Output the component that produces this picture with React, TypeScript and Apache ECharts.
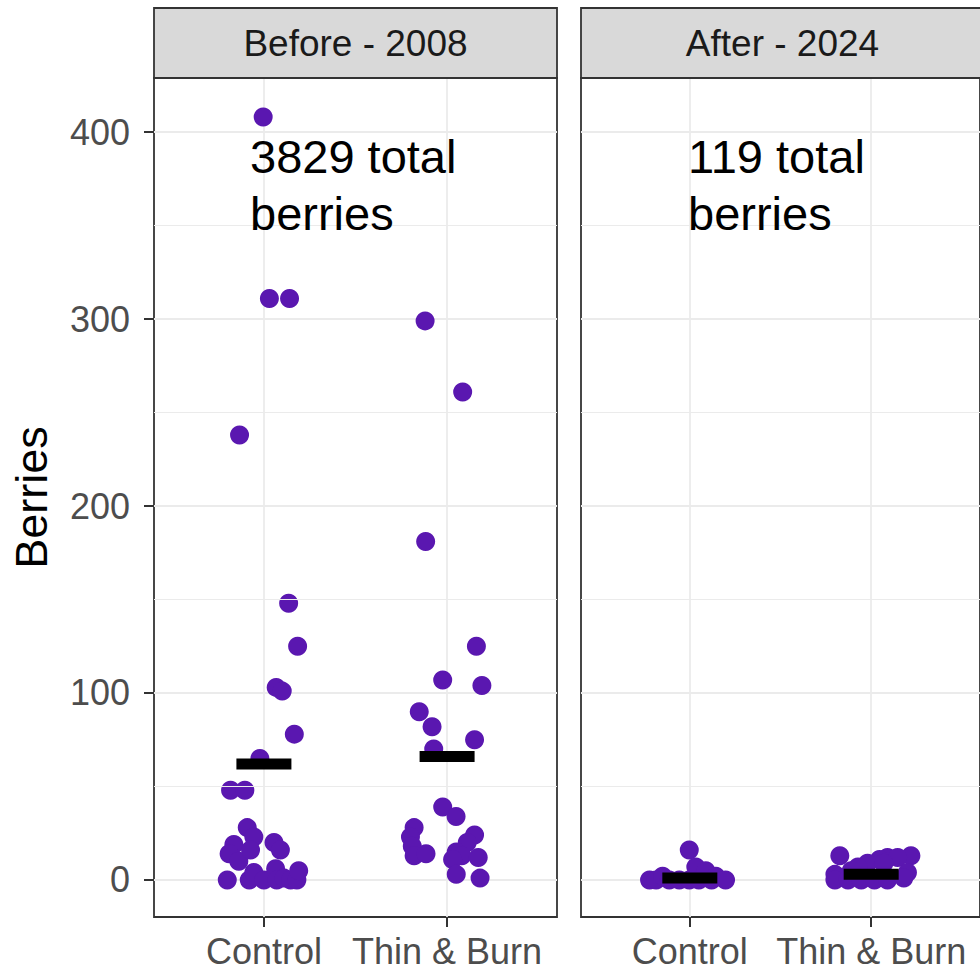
import React, { useEffect, useRef } from "react";
import * as echarts from "echarts";

const panels = ["Before - 2008", "After - 2024"];
const groups = ["Control", "Thin & Burn"];
const yTicks = [0, 100, 200, 300, 400];
const yMinorTicks = [50, 150, 250, 350];
const totalLabels = ["3829 total\nberries", "119 total\nberries"];

// jittered x positions (1 = Control, 2 = Thin & Burn) and berry counts
const beforeControlX = [0.996, 1.03, 1.14, 0.867, 1.135, 1.184, 1.067, 1.1, 1.166, 0.978, 0.818, 0.896, 0.909, 0.945, 0.836, 0.81, 0.863, 0.927, 1.055, 1.09, 0.8, 0.92, 0.945, 1.0, 1.064, 1.07, 1.11, 1.146, 1.18, 1.19];
const beforeControlY = [408, 311, 311, 238, 148, 125, 103, 101, 78, 65, 48, 48, 28, 23, 19, 14, 10, 16, 20, 16, 0, 0, 4, 0, 6, 0, 1, 0, 0, 5];

const beforeThinX = [1.88, 2.085, 1.883, 2.16, 1.976, 2.19, 1.848, 1.918, 2.15, 1.927, 1.976, 2.049, 1.82, 1.8, 2.15, 1.81, 1.82, 1.885, 2.11, 2.05, 2.08, 2.17, 2.03, 2.05, 2.18];
const beforeThinY = [299, 261, 181, 125, 107, 104, 90, 82, 75, 70, 39, 34, 28, 23, 24, 18, 13, 14, 20, 15, 13, 12, 11, 3, 1];

const afterControlX = [0.997, 0.778, 0.814, 0.85, 0.887, 0.942, 0.997, 1.033, 1.05, 1.088, 1.12, 1.143, 1.197];
const afterControlY = [16, 0, 0, 2, 0, 0, 0, 7, 0, 5, 0, 2, 0];

const afterThinX = [1.827, 2.219, 2.09, 2.146, 2.046, 1.98, 2.07, 1.927, 1.89, 1.8, 2.2, 1.8, 1.872, 1.945, 2.018, 2.09, 2.18];
const afterThinY = [13, 13, 12, 12, 11, 9, 9, 7, 5, 3, 4, 0, 0, 0, 0, 0, 1];

const meanBefore = [62, 66];
const meanAfter = [1, 3];

const FONT = '"Liberation Sans", Arial, Helvetica, sans-serif';
const PURPLE = "#5a17b0";
const GRID_COLOR = "#ebebeb";

const zip = (xs: number[], ys: number[]) => xs.map((x, i) => [x, ys[i]]);

export default function App() {
  const ref = useRef<HTMLDivElement>(null);

  useEffect(() => {
    if (!ref.current) return;
    const chart = echarts.init(ref.current, undefined, { renderer: "svg" });

    const gridLeft = [154, 581];
    const gridTop = 78;
    const gridW = 403;
    const gridH = 839;

    const pointsByPanel = [
      [...zip(beforeControlX, beforeControlY), ...zip(beforeThinX, beforeThinY)],
      [...zip(afterControlX, afterControlY), ...zip(afterThinX, afterThinY)],
    ];
    const meansByPanel = [meanBefore, meanAfter];

    const series: any[] = [];
    panels.forEach((_, i) => {
      series.push({
        type: "scatter",
        xAxisIndex: i,
        yAxisIndex: i,
        data: [],
        silent: true,
        z: 1,
        markLine: {
          silent: true,
          symbol: "none",
          label: { show: false },
          lineStyle: { color: GRID_COLOR, width: 1, type: "solid" },
          data: yMinorTicks.map((v) => ({ yAxis: v })),
        },
      });
      series.push({
        type: "scatter",
        xAxisIndex: i,
        yAxisIndex: i,
        symbol: "circle",
        symbolSize: 19,
        itemStyle: { color: PURPLE, opacity: 1 },
        data: pointsByPanel[i],
        z: 3,
      });
      series.push({
        type: "scatter",
        xAxisIndex: i,
        yAxisIndex: i,
        symbol: "rect",
        symbolSize: [55, 11],
        itemStyle: { color: "#000000", opacity: 1 },
        data: meansByPanel[i].map((m, k) => [k + 1, m]),
        z: 4,
      });
    });

    const graphic: any[] = [];
    panels.forEach((p, i) => {
      graphic.push({
        type: "rect",
        shape: { x: gridLeft[i], y: 8, width: gridW, height: 70 },
        style: { fill: "#d9d9d9", stroke: "#333333", lineWidth: 1.8 },
        z: 10,
      });
      graphic.push({
        type: "text",
        x: gridLeft[i] + gridW / 2,
        y: 43,
        style: {
          text: p,
          fontSize: 37,
          fontFamily: FONT,
          fill: "#1a1a1a",
          textAlign: "center",
          textVerticalAlign: "middle",
        },
        z: 11,
      });
    });
    const annX = [250, 688];
    totalLabels.forEach((t, i) => {
      graphic.push({
        type: "text",
        x: annX[i],
        y: 128,
        style: {
          text: t,
          fontSize: 47,
          lineHeight: 57,
          fontFamily: FONT,
          fill: "#000000",
          textAlign: "left",
          textVerticalAlign: "top",
        },
        z: 12,
      });
    });

    chart.setOption({
      animation: false,
      backgroundColor: "#ffffff",
      grid: panels.map((_, i) => ({
        left: gridLeft[i],
        top: gridTop,
        width: gridW,
        height: gridH,
        show: true,
        backgroundColor: "#ffffff",
        borderColor: "#333333",
        borderWidth: 1.8,
        containLabel: false,
      })),
      xAxis: panels.map((_, i) => ({
        type: "value",
        gridIndex: i,
        position: "bottom",
        min: 0.4,
        max: 2.6,
        axisLine: { show: false, onZero: false },
        axisTick: {
          show: true,
          customValues: [1, 2],
          length: 10,
          lineStyle: { color: "#333333", width: 2 },
        },
        axisLabel: {
          show: true,
          customValues: [1, 2],
          formatter: (v: number) => groups[Math.round(v) - 1] ?? "",
          fontSize: 36,
          fontFamily: FONT,
          color: "#4d4d4d",
          margin: 16,
        },
        splitLine: { show: true, lineStyle: { color: GRID_COLOR, width: 1.8 } },
      })),
      yAxis: panels.map((_, i) => ({
        type: "value",
        gridIndex: i,
        min: -19.8,
        max: 428.9,
        name: i === 0 ? "Berries" : "",
        nameLocation: "middle",
        nameRotate: 90,
        nameGap: 100,
        nameTextStyle: { fontSize: 45, fontFamily: FONT, color: "#000000" },
        axisLine: { show: false, onZero: false },
        axisTick: {
          show: i === 0,
          customValues: yTicks,
          length: 10,
          lineStyle: { color: "#333333", width: 2 },
        },
        axisLabel: {
          show: i === 0,
          customValues: yTicks,
          fontSize: 36,
          fontFamily: FONT,
          color: "#4d4d4d",
          margin: 24,
        },
        splitLine: { show: true, lineStyle: { color: GRID_COLOR, width: 1.8 } },
      })),
      series,
      graphic,
    });

    return () => chart.dispose();
  }, []);

  return (
    <div
      ref={ref}
      style={{ position: "fixed", left: 0, top: 0, width: 980, height: 973, background: "#fff" }}
    />
  );
}
